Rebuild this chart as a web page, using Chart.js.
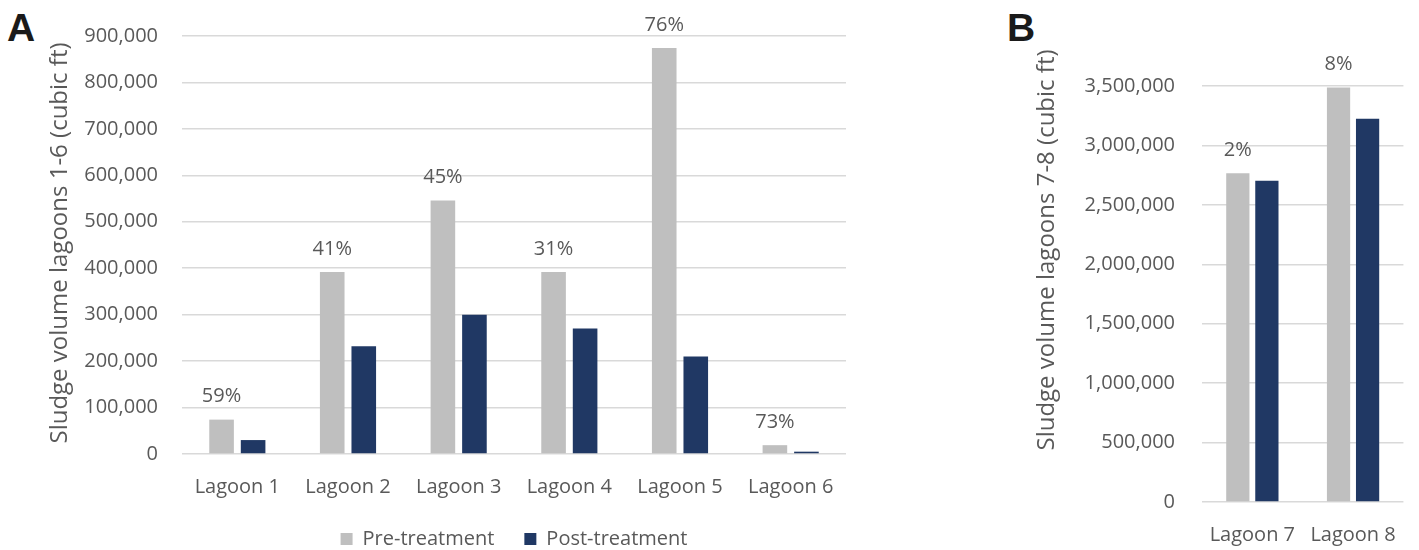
<!DOCTYPE html>
<html lang="en">
<head>
    <meta charset="UTF-8">
    <title>Sludge volume per lagoon</title>
    <script src="https://cdn.jsdelivr.net/npm/chart.js@4"></script>
    <style>
        body {
            margin: 0;
            background: white;
            width: 1419px;
            height: 550px;
            position: relative;
            overflow: hidden;
        }
        .panel {
            position: absolute;
            top: 8px;
            font-family: 'Liberation Sans', Arial, sans-serif;
            font-weight: bold;
            font-size: 39px;
            line-height: 39px;
            color: #1a1a1a;
        }
        #wrapA { position: absolute; left: 0; top: 0; width: 870px; height: 550px; }
        #wrapB { position: absolute; left: 1000px; top: 0; width: 419px; height: 550px; }
    </style>
</head>
<body>

<div class="panel" style="left: 7px;">A</div>
<div class="panel" style="left: 1007px;">B</div>

<div id="wrapA"><canvas id="chartA" width="870" height="550"></canvas></div>
<div id="wrapB"><canvas id="chartB" width="419" height="550"></canvas></div>

<script>
    // panel A data
    const categoriesA = ['Lagoon 1', 'Lagoon 2', 'Lagoon 3', 'Lagoon 4', 'Lagoon 5', 'Lagoon 6'];
    const preA = [74000, 392000, 546000, 392000, 874000, 19000];
    const postA = [30000, 232000, 300000, 270000, 210000, 5000];
    const pctA = ['59%', '41%', '45%', '31%', '76%', '73%'];

    // panel B data
    const categoriesB = ['Lagoon 7', 'Lagoon 8'];
    const preB = [2766000, 3487000];
    const postB = [2702000, 3225000];
    const pctB = ['2%', '8%'];

    const seriesNames = ['Pre-treatment', 'Post-treatment'];
    const preColor = '#bfbfbf';
    const postColor = '#203864';
    const textColor = '#595959';
    const gridColor = '#d9d9d9';
    const sansFont = "'Open Sans', 'Noto Sans', sans-serif";

    // writes the reduction % above the pre-treatment bar of each group
    const pctLabels = {
        id: 'pctLabels',
        afterDatasetsDraw(chart, args, opts) {
            const ctx = chart.ctx;
            const meta = chart.getDatasetMeta(0);
            ctx.save();
            ctx.font = '20px ' + sansFont;
            ctx.fillStyle = textColor;
            ctx.textAlign = 'center';
            ctx.textBaseline = 'middle';
            meta.data.forEach((bar, i) => {
                ctx.fillText(opts.labels[i], bar.x, bar.y - 23);
            });
            ctx.restore();
        }
    };

    // rotated y axis title, centred where the original figure has it
    const axisTitle = {
        id: 'axisTitle',
        afterDraw(chart, args, opts) {
            const ctx = chart.ctx;
            ctx.save();
            ctx.translate(opts.x, opts.y);
            ctx.rotate(-Math.PI / 2);
            ctx.font = '24px ' + sansFont;
            ctx.fillStyle = textColor;
            ctx.textAlign = 'center';
            ctx.textBaseline = 'middle';
            ctx.fillText(opts.text, 0, 0);
            ctx.restore();
        }
    };

    function makeChart(id, labels, pre, post, pct, cfg) {
        return new Chart(document.getElementById(id), {
            type: 'bar',
            data: {
                labels: labels,
                datasets: [
                    { label: seriesNames[0], data: pre, backgroundColor: preColor },
                    { label: seriesNames[1], data: post, backgroundColor: postColor }
                ]
            },
            options: {
                responsive: false,
                animation: false,
                layout: { padding: cfg.padding },
                datasets: {
                    bar: { categoryPercentage: cfg.cp, barPercentage: cfg.bp }
                },
                scales: {
                    x: {
                        grid: { display: false, drawTicks: false },
                        border: { display: false },
                        ticks: {
                            color: textColor,
                            font: { family: sansFont, size: 20 },
                            padding: 21,
                            maxRotation: 0
                        },
                        afterFit: s => { s.height = cfg.xHeight; }
                    },
                    y: {
                        min: 0,
                        max: cfg.max,
                        border: { display: false },
                        grid: { color: gridColor, lineWidth: 1.5, drawTicks: false },
                        ticks: {
                            stepSize: cfg.step,
                            color: textColor,
                            padding: cfg.tickPad,
                            font: { family: sansFont, size: 20 },
                            callback: v => v.toLocaleString('en-US')
                        },
                        afterFit: s => { s.width = cfg.yWidth; }
                    }
                },
                plugins: {
                    tooltip: { enabled: false },
                    pctLabels: { labels: pct },
                    axisTitle: cfg.title,
                    legend: cfg.legend
                }
            },
            plugins: [pctLabels, axisTitle]
        });
    }

    makeChart('chartA', categoriesA, preA, postA, pctA, {
        padding: { top: 33, right: 24, bottom: -9, left: 0 },
        cp: 0.57, bp: 0.78,
        max: 900000, step: 100000,
        yWidth: 182, tickPad: 24,
        xHeight: 45,
        title: { text: 'Sludge volume lagoons 1-6 (cubic ft)', x: 60, y: 243 },
        legend: {
            display: true,
            position: 'bottom',
            fullSize: false,
            labels: {
                color: textColor,
                font: { family: sansFont, size: 20 },
                boxWidth: 12,
                boxHeight: 12,
                padding: 30
            }
        }
    });

    makeChart('chartB', categoriesB, preB, postB, pctB, {
        padding: { top: 86, right: 9, bottom: 0, left: 0 },
        cp: 0.577, bp: 0.8,
        max: 3500000, step: 500000,
        yWidth: 202, tickPad: 27,
        xHeight: 48,
        title: { text: 'Sludge volume lagoons 7-8 (cubic ft)', x: 47, y: 250 },
        legend: { display: false }
    });
</script>

</body>
</html>
